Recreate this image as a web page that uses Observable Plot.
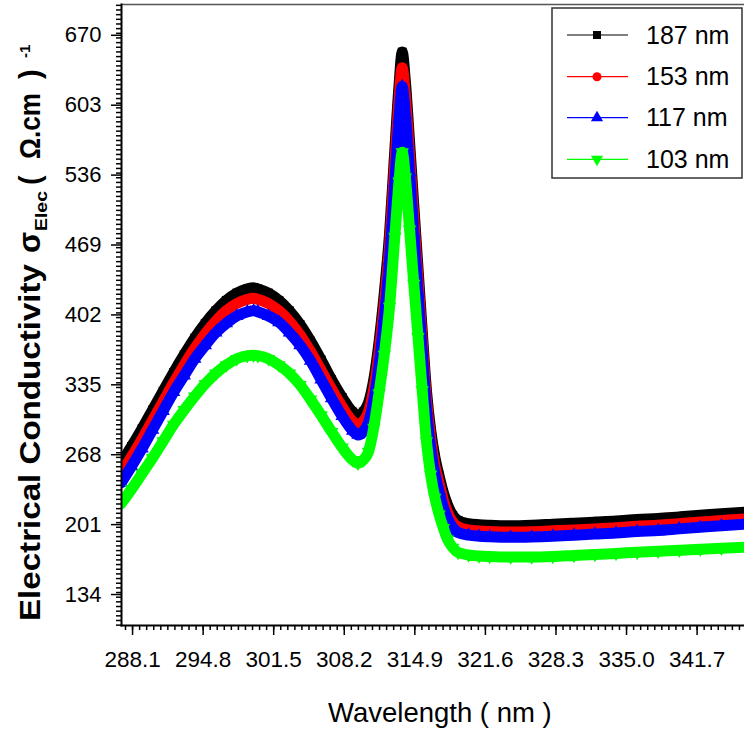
<!DOCTYPE html>
<html><head><meta charset="utf-8">
<script src="https://cdn.jsdelivr.net/npm/d3@7"></script>
<script src="https://cdn.jsdelivr.net/npm/@observablehq/plot@0.6"></script>
<style>body{margin:0;background:#fff} svg{display:block}</style>
</head><body><div id="chart"></div>
<script>
// ---- data ----
const wavelength = [287, 288, 289, 290, 291, 292, 293, 294, 295, 296, 297, 298, 299, 299.6, 300, 301, 302, 303, 304, 305, 306, 307, 308, 309, 309.5, 310, 310.5, 311, 311.5, 312, 312.5, 313, 313.4, 313.7, 314, 314.4, 314.8, 315.2, 315.6, 316, 316.4, 316.8, 317.2, 317.6, 318, 318.5, 319, 320, 321, 322, 324, 326, 328, 330, 332, 334, 336, 338, 340, 342, 344, 346.3];
const s187 = [258, 274, 291, 309, 327, 345, 362, 378, 392, 404, 414, 421, 425, 426, 425, 421, 414, 404, 391, 375, 357, 338, 321, 307, 304, 307, 316, 338, 374, 421, 478, 558, 620, 652, 624, 566, 505, 445, 385, 328, 290, 264, 246, 230, 218, 208, 203, 200, 199, 198.5, 198, 198.5, 199.5, 200.5, 201.5, 202.5, 204, 205, 206.5, 208, 209.5, 211];
const s153 = [248, 264, 281, 299, 317, 335, 352, 368, 382, 394, 404, 411, 415, 416, 415, 411, 404, 394, 381, 365, 347, 329, 312, 298, 295, 298, 307, 329, 364, 410, 466, 545, 606, 637, 610, 553, 493, 434, 375, 319, 282, 256, 239, 223, 211, 201.5, 197, 194, 193, 192.5, 192, 192.3, 193.2, 194, 195, 196, 197.5, 198.5, 200, 201.5, 203, 204.5];
const s117 = [239, 255, 272, 290, 308, 326, 342, 358, 371, 383, 392, 399, 403, 404, 403, 399, 393, 383, 371, 356, 338, 320, 303, 289, 285, 288, 297, 318, 352, 397, 452, 527, 588, 619, 592, 537, 478, 421, 364, 309, 273, 248, 231, 216, 205, 196, 191.5, 189, 188, 187.5, 187, 187.3, 188, 189, 190, 191, 192.5, 193.5, 195, 196.5, 198, 199.5];
const s103 = [219, 233, 248, 263, 279, 295, 309, 322, 334, 344, 352, 358, 361, 361.5, 361, 358, 352, 344, 333, 319, 304, 288, 273, 261, 258, 261, 269, 292, 325, 362, 408, 475, 528, 556, 532, 482, 430, 379, 328, 279, 247, 225, 209, 196, 185, 177, 172.5, 170, 169, 168.5, 168, 168, 168.5, 169.5, 170.5, 171.5, 172.5, 173.5, 174.5, 175.5, 176.5, 177.5];
const seriesNames = ["187 nm", "153 nm", "117 nm", "103 nm"];
const seriesColors = ["#000000", "#ff0000", "#0000ff", "#00ff00"];
const xTicks = [288.1, 294.8, 301.5, 308.2, 314.9, 321.6, 328.3, 335.0, 341.7];
const yTicks = [134, 201, 268, 335, 402, 469, 536, 603, 670];
const xTitle = "Wavelength ( nm )";

// ---- layout ----
const xDomain = [287.05, 346.2];
const yDomain = [102.4, 697.6];
const font = "Liberation Sans, Arial, sans-serif";

const triangleDown = {
  draw(context, size) {
    const y = -Math.sqrt(size / (Math.sqrt(3) * 3));
    const s = Math.sqrt(3);
    context.moveTo(0, -2 * y);
    context.lineTo(-s * y, y);
    context.lineTo(s * y, y);
    context.closePath();
  }
};
const symbols = ["square", "circle", "triangle", triangleDown];
const d3Symbols = [d3.symbolSquare, d3.symbolCircle, d3.symbolTriangle, triangleDown];
const allValues = [s187, s153, s117, s103];

const xMinor = d3.range(-2, 90).map(i => +(xTicks[0] + i * 0.67).toFixed(3)).filter(v => v >= xDomain[0] && v <= xDomain[1]);
const yMinor = d3.range(-10, 140).map(i => yTicks[0] + i * 67 / 15).filter(v => v >= yDomain[0] && v <= yDomain[1]);

const seriesMarks = allValues.flatMap((vals, i) => {
  const table = wavelength.map((w, j) => ({w, v: vals[j]}));
  return [
    Plot.line(table, {x: "w", y: "v", stroke: seriesColors[i], strokeWidth: 11, curve: "monotone-x", strokeLinejoin: "round", clip: true}),
    Plot.dot(table, {x: "w", y: "v", fill: seriesColors[i], symbol: symbols[i], r: 5, clip: true})
  ];
});

const chart = Plot.plot({
  width: 744, height: 733,
  marginLeft: 121, marginRight: 0, marginTop: 4, marginBottom: 108,
  style: {fontFamily: font, background: "white", color: "black", overflow: "visible"},
  x: {domain: xDomain, label: null},
  y: {domain: yDomain, label: null},
  marks: [
    ...seriesMarks,
    Plot.axisX(xMinor, {tickSize: 5, tickFormat: () => "", strokeWidth: 1.5, label: null}),
    Plot.axisX(xTicks, {tickSize: 10, tickPadding: 16, fontSize: 22.5, tickFormat: d => d.toFixed(1), strokeWidth: 1.5, label: null}),
    Plot.axisY(yMinor, {tickSize: 5, tickFormat: () => "", strokeWidth: 1.5, label: null}),
    Plot.axisY(yTicks, {tickSize: 10, tickPadding: 10, fontSize: 22, dy: 2, tickFormat: d => String(d), strokeWidth: 1.5, label: null}),
    Plot.frame({anchor: "top", stroke: "#555", strokeWidth: 1.5}),
    Plot.frame({anchor: "left", stroke: "black", strokeWidth: 2}),
    Plot.frame({anchor: "bottom", stroke: "black", strokeWidth: 2})
  ]
});
document.getElementById("chart").appendChild(chart);

const svg = d3.select(chart);
// x axis title
svg.append("text").attr("x", 328).attr("y", 722).attr("text-anchor", "start")
  .attr("font-family", font).attr("font-size", 27.5).attr("fill", "black").text(xTitle);

// y axis title (rotated, bold, with sub/superscript)
const yl = svg.append("g").attr("font-family", font).attr("font-weight", "bold").attr("fill", "black").attr("text-anchor", "start");
function rot(txt, x, y, size, len) {
  const t = yl.append("text").attr("transform", `translate(${x},${y}) rotate(-90)`).attr("font-size", size).text(txt);
  if (len) t.attr("textLength", len).attr("lengthAdjust", "spacingAndGlyphs");
  return t;
}
rot("Electrical Conductivity", 40, 621, 29, 357);
rot("σ", 40, 253, 31);
rot("Elec", 46.5, 231, 17, 40);
rot("(", 40, 185, 29);
rot("Ω.cm", 40, 159, 29, 66);
rot(")", 40, 79, 29);
rot("-1", 30, 58, 15);

// legend
const lg = svg.append("g").attr("font-family", font).attr("text-anchor", "start");
lg.append("rect").attr("x", 552).attr("y", 8).attr("width", 190).attr("height", 170)
  .attr("fill", "white").attr("stroke", "#333").attr("stroke-width", 1.5);
const rows = [35, 76.7, 117.7, 159.3];
seriesNames.forEach((name, i) => {
  lg.append("line").attr("x1", 567).attr("x2", 628).attr("y1", rows[i]).attr("y2", rows[i])
    .attr("stroke", seriesColors[i]).attr("stroke-width", 1.2);
  lg.append("path").attr("d", d3.symbol(d3Symbols[i], 64)()).attr("transform", `translate(597,${rows[i]})`)
    .attr("fill", seriesColors[i]);
  lg.append("text").attr("x", 646).attr("y", rows[i] + 8.5).attr("font-size", 25).attr("fill", "black").text(name);
});
</script>
</body></html>
